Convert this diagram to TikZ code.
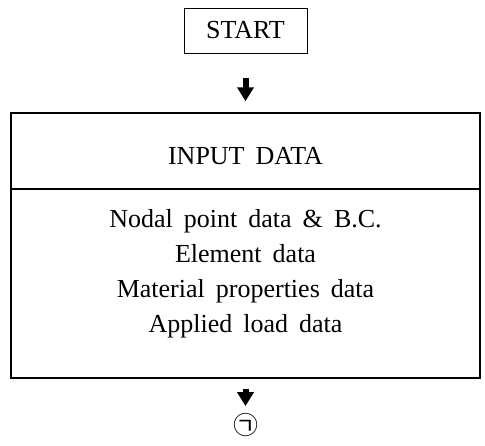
\documentclass[tikz,border=0pt]{standalone}
\usepackage{fontspec}
\setmainfont[WordSpace=1.7]{Liberation Serif}
\newfontfamily\krfont{Noto Sans CJK KR}
\usetikzlibrary{arrows.meta}

\begin{document}
\begin{tikzpicture}[x=1pt,y=-1pt,
    box/.style={draw,inner sep=0pt},
    txt/.style={font=\fontsize{26}{35}\selectfont},
    bigarrow/.style={line width=6pt,-{Triangle[width=16pt,length=14pt]}} ]
    \useasboundingbox (0,0) rectangle (485,445);
    \node [box,txt,line width=1pt,minimum width=123pt,minimum height=45pt] at (245.5,30.5) (start) {START};
    \node [box,line width=1.4pt,minimum width=469pt,minimum height=265pt] at (245.5,245.5) (input) {};
    \coordinate (divl) at (11,189);
    \coordinate (divr) at (480,189);
    \draw [line width=1.4pt] (divl) -- (divr);
    \node [txt] at (245.5,156) (title) {INPUT DATA};
    \node [txt,align=center] at (245.5,273.5) (items) {Nodal point data \& B.C.\\
      Element data\\ Material properties data\\ Applied load data};
    \node [inner sep=0pt,minimum size=22pt,font=\krfont\fontsize{25}{25}\selectfont] at (245.5,425) (mark) {㉠};
    \draw [bigarrow,shorten <=24pt,shorten >=11pt] (start) to (input);
    \draw [bigarrow,shorten <=10pt,shorten >=7pt] (input) to (mark);
\end{tikzpicture}
\end{document}
